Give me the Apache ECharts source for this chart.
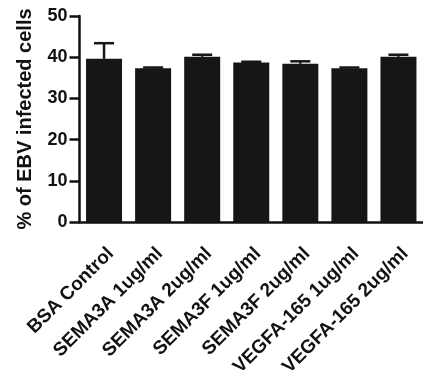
<!DOCTYPE html>
<html>
<head>
<meta charset="utf-8">
<script src="https://cdn.jsdelivr.net/npm/echarts@6/dist/echarts.min.js"></script>
<style>
html,body{margin:0;padding:0;background:#fff;}
#chart{width:423px;height:379px;}
</style>
</head>
<body>
<div id="chart"></div>
<script>
var categories = ['BSA Control', 'SEMA3A 1ug/ml', 'SEMA3A 2ug/ml', 'SEMA3F 1ug/ml', 'SEMA3F 2ug/ml', 'VEGFA-165 1ug/ml', 'VEGFA-165 2ug/ml'];
var means = [39.6, 37.3, 40.1, 38.7, 38.4, 37.3, 40.1];
var upperErrors = [43.4, 37.5, 40.6, 38.9, 39.0, 37.5, 40.6];
var yTicks = [0, 10, 20, 30, 40, 50];

var chart = echarts.init(document.getElementById('chart'));
var font = 'Liberation Sans, Arial, sans-serif';
var errData = categories.map(function (c, i) { return [i, means[i], upperErrors[i]]; });

chart.setOption({
  animation: false,
  grid: { left: 79.5, right: -2, top: 16, bottom: 155 },
  xAxis: {
    type: 'category',
    data: categories,
    axisLine: { lineStyle: { color: '#111', width: 2.5 } },
    axisTick: { alignWithLabel: true, length: 11, lineStyle: { color: '#111', width: 2.5 } },
    axisLabel: { rotate: 45, margin: 22, verticalAlign: 'top', color: '#111', fontFamily: font, fontWeight: 'bold', fontSize: 19, interval: 0 }
  },
  yAxis: {
    type: 'value',
    min: 0, max: 50, interval: 10,
    name: '% of EBV infected cells',
    nameLocation: 'middle',
    nameGap: 44,
    nameTextStyle: { color: '#111', fontFamily: font, fontWeight: 'bold', fontSize: 20 },
    axisLine: { show: true, lineStyle: { color: '#111', width: 2.5 } },
    axisTick: { show: true, length: 10, lineStyle: { color: '#111', width: 2.5 } },
    axisLabel: { margin: 12, color: '#111', fontFamily: font, fontWeight: 'bold', fontSize: 18,
      formatter: function (v) { return yTicks.indexOf(v) >= 0 ? String(v) : ''; } },
    splitLine: { show: false }
  },
  series: [
    {
      type: 'bar',
      data: means,
      barWidth: 36,
      itemStyle: { color: '#161616' },
      z: 2
    },
    {
      type: 'custom',
      data: errData,
      z: 3,
      renderItem: function (params, api) {
        var x = api.value(0);
        var base = api.coord([x, api.value(1)]);
        var top = api.coord([x, api.value(2)]);
        var cap = 10;
        return {
          type: 'group',
          children: [
            { type: 'line', shape: { x1: top[0], y1: base[1], x2: top[0], y2: top[1] }, style: { stroke: '#161616', lineWidth: 2.5 } },
            { type: 'line', shape: { x1: top[0] - cap, y1: top[1], x2: top[0] + cap, y2: top[1] }, style: { stroke: '#161616', lineWidth: 2.5 } }
          ]
        };
      }
    }
  ]
});
</script>
</body>
</html>
